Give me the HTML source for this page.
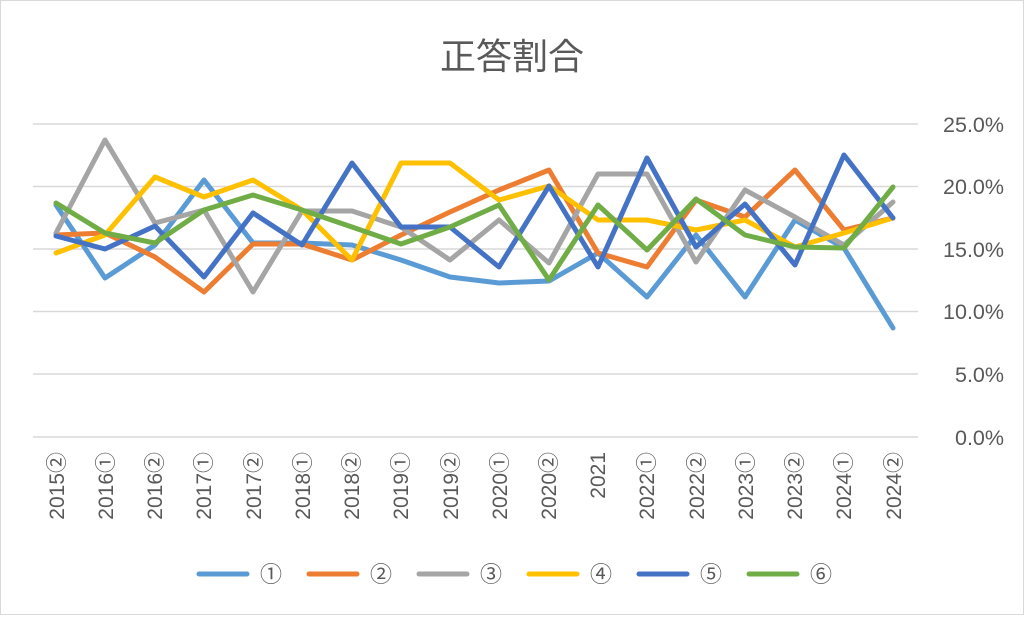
<!DOCTYPE html>
<html><head><meta charset="utf-8"><style>
body{margin:0;background:#fff}
svg text{font-family:"Liberation Sans","Noto Sans CJK JP",sans-serif;fill:#595959}
</style></head><body>
<svg width="1024" height="615" viewBox="0 0 1024 615" xmlns="http://www.w3.org/2000/svg">
<rect x="0.5" y="0.5" width="1023" height="614" fill="#fff" stroke="#d9d9d9"/>
<text x="512" y="69" font-size="36" text-anchor="middle">正答割合</text>
<g stroke="#d9d9d9" stroke-width="1.5">
<line x1="33" x2="918" y1="124" y2="124"/><line x1="33" x2="918" y1="186.5" y2="186.5"/>
<line x1="33" x2="918" y1="249" y2="249"/><line x1="33" x2="918" y1="311.5" y2="311.5"/>
<line x1="33" x2="918" y1="374" y2="374"/><line x1="33" x2="918" y1="437" y2="437"/>
</g>
<g font-size="21.5" text-anchor="end">
<text x="1004" y="132">25.0%</text><text x="1004" y="194">20.0%</text><text x="1004" y="257">15.0%</text>
<text x="1004" y="319">10.0%</text><text x="1004" y="382">5.0%</text><text x="1004" y="445">0.0%</text>
</g>
<g font-size="21" text-anchor="end">
<text transform="translate(64,452) rotate(-90)">2015②</text>
<text transform="translate(113,452) rotate(-90)">2016①</text>
<text transform="translate(162,452) rotate(-90)">2016②</text>
<text transform="translate(211,452) rotate(-90)">2017①</text>
<text transform="translate(261,452) rotate(-90)">2017②</text>
<text transform="translate(310,452) rotate(-90)">2018①</text>
<text transform="translate(359,452) rotate(-90)">2018②</text>
<text transform="translate(408,452) rotate(-90)">2019①</text>
<text transform="translate(458,452) rotate(-90)">2019②</text>
<text transform="translate(507,452) rotate(-90)">2020①</text>
<text transform="translate(556,452) rotate(-90)">2020②</text>
<text transform="translate(605,452) rotate(-90)">2021</text>
<text transform="translate(654,452) rotate(-90)">2022①</text>
<text transform="translate(704,452) rotate(-90)">2022②</text>
<text transform="translate(753,452) rotate(-90)">2023①</text>
<text transform="translate(802,452) rotate(-90)">2023②</text>
<text transform="translate(851,452) rotate(-90)">2024①</text>
<text transform="translate(901,452) rotate(-90)">2024②</text>
</g>
<g fill="none" stroke-width="5" stroke-linejoin="round" stroke-linecap="round">
<polyline stroke="#5b9bd5" points="56,205 105,278 155,245 204,180 253,243 302,243 352,245 401,260 450,277 499,283 549,281 598,253 647,297 696,235 745,297 795,220 844,248 893,328"/>
<polyline stroke="#ed7d31" points="56,235 105,233 155,257 204,292 253,244 302,244 352,260 401,235 450,212 499,190 549,170 598,253 647,267 696,200 745,217 795,170 844,230 893,218"/>
<polyline stroke="#a5a5a5" points="56,233 105,140 155,223 204,210 253,292 302,211 352,211 401,227 450,260 499,220 549,263 598,174 647,174 696,262 745,190 795,217 844,245 893,202"/>
<polyline stroke="#ffc000" points="56,253 105,235 155,177 204,197 253,180 302,210 352,260 401,163 450,163 499,200 549,186 598,220 647,220 696,230 745,220 795,247 844,233 893,218"/>
<polyline stroke="#4472c4" points="56,236 105,249 155,226 204,277 253,213 302,245 352,163 401,227 450,227 499,267 549,186 598,267 647,158 696,247 745,204 795,265 844,155 893,218"/>
<polyline stroke="#70ad47" points="56,203 105,233 155,243 204,210 253,195 302,210 352,227 401,244 450,227 499,205 549,280 598,205 647,250 696,199 745,235 795,247 844,248 893,187"/>
</g>
<g stroke-width="5" stroke-linecap="round">
<line x1="199" x2="247" y1="574" y2="574" stroke="#5b9bd5"/>
<line x1="309" x2="357" y1="574" y2="574" stroke="#ed7d31"/>
<line x1="419" x2="467" y1="574" y2="574" stroke="#a5a5a5"/>
<line x1="529" x2="577" y1="574" y2="574" stroke="#ffc000"/>
<line x1="639" x2="687" y1="574" y2="574" stroke="#4472c4"/>
<line x1="749" x2="797" y1="574" y2="574" stroke="#70ad47"/>
</g>
<g font-size="22">
<text x="260" y="582">①</text><text x="370" y="582">②</text><text x="480" y="582">③</text>
<text x="590" y="582">④</text><text x="700" y="582">⑤</text><text x="810" y="582">⑥</text>
</g>
</svg>
</body></html>
